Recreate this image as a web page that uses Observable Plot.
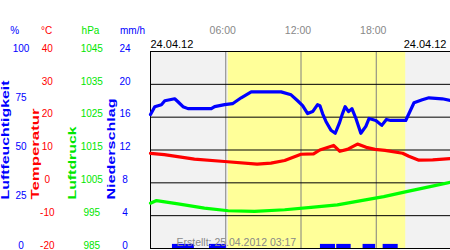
<!DOCTYPE html>
<html><head><meta charset="utf-8">
<script src="https://cdn.jsdelivr.net/npm/d3@7"></script>
<script src="https://cdn.jsdelivr.net/npm/@observablehq/plot@0.6"></script>
<style>
html,body{margin:0;padding:0;background:#fff;overflow:hidden;}
</style></head><body><div id="chart"></div>
<script>
// ---- data ----
const humHours  = [0, 0.34, 0.87, 1.14, 1.93, 2.19, 2.59, 2.99, 4.85, 5.11, 5.91, 6.54, 7.23, 8.03, 10.41, 11.21, 11.73, 12.13, 12.53, 12.93, 13.32, 13.51, 13.72, 13.99, 14.39, 14.73, 15.05, 15.31, 15.52, 15.79, 16.06, 16.38, 16.77, 17.17, 17.43, 17.97, 18.44, 18.81, 19.16, 20.35, 20.61, 21.01, 21.67, 22.2, 23.26, 24];
const humValues = [68, 72, 73, 75, 76, 74.5, 72, 71, 71, 72, 73, 73.5, 76.5, 79.5, 79.5, 78, 75, 72.5, 68.5, 69.5, 73, 72.5, 68.5, 64.5, 60, 58.5, 63.5, 68.5, 72, 69.5, 71, 66, 58.5, 62, 66, 65, 62.5, 65.5, 65, 65, 68.5, 74, 75.5, 76.5, 76, 75];

const tempHours  = [0, 1.1, 3.5, 5.9, 8.5, 9.6, 10.7, 12.0, 13.0, 13.5, 14.6, 15.1, 15.7, 16.5, 17.2, 17.9, 18.7, 20.1, 20.6, 21.4, 22.5, 24];
const tempValues = [9.0, 8.6, 7.2, 6.5, 5.7, 6.0, 6.8, 8.7, 8.8, 10.0, 11.4, 9.6, 10.2, 11.8, 10.8, 10.2, 9.9, 9.0, 8.1, 6.9, 7.0, 7.4];

const pressHours  = [0, 0.48, 2.2, 4.3, 6.2, 8.3, 10.7, 12.8, 14.9, 16.8, 18.6, 20.5, 22.1, 24];
const pressValues = [998.8, 999.6, 998.6, 997.3, 996.5, 996.3, 996.8, 997.5, 998.3, 999.6, 1000.8, 1002.4, 1003.7, 1005.2];

const rainStart  = [1.75, 4.7, 13.55, 14.85, 16.95, 18.55];
const rainEnd    = [3.5, 6.05, 14.75, 16.0, 17.95, 19.75];
const rainValues = [0.5, 0.5, 0.5, 0.5, 0.5, 0.5];

const humTicks   = [0, 25, 50, 75, 100];
const tempTicks  = [-20, -10, 0, 10, 20, 30, 40];
const pressTicks = [985, 995, 1005, 1015, 1025, 1035, 1045];
const rainTicks  = [0, 4, 8, 12, 16, 20, 24];

const timeTicks  = [6, 12, 18];
const timeLabels = ["06:00", "12:00", "18:00"];
const dateLabel  = "24.04.12";
const dayStart = 6.2, dayEnd = 20.35;
const unitLabels  = ["%", "°C", "hPa", "mm/h"];
const axisTitles  = ["Luftfeuchtigkeit", "Temperatur", "Luftdruck", "Niederschlag"];
const createdText = "Erstellt: 25.04.2012 03:17";

// ---- secondary axes mapped onto the temperature (°C) scale ----
const hum   = h => -20 + h * 0.6;
const press = p => p - 1005;
const rain  = r => -20 + r * 2.5;

const humData   = humHours.map((t, i) => ({t, v: hum(humValues[i])}));
const tempData  = tempHours.map((t, i) => ({t, v: tempValues[i]}));
const pressData = pressHours.map((t, i) => ({t, v: press(pressValues[i])}));
const rainData  = rainStart.map((s, i) => ({s, e: rainEnd[i], v: rain(rainValues[i])}));

// ---- layout / style ----
const ML = 150, MT = 51;
const BLUE = "#0000ff", RED = "#ff0000", GREEN = "#00ff00", GREENTXT = "#00e600";
const axes = [
  {ticks: humTicks,   map: hum,   cx: 20.5, color: BLUE},
  {ticks: tempTicks,  map: t => t, cx: 46.8, color: RED},
  {ticks: pressTicks, map: press, cx: 91.3, color: GREENTXT},
  {ticks: rainTicks,  map: rain,  cx: 124.5, color: BLUE}
];
const unitPos   = [14.2, 46.2, 90, 132];
const unitColor = [BLUE, RED, GREENTXT, BLUE];
const titleBase = [8.5, 38, 75.5, 114.5];
const titleLen  = [119, 91, 73, 101];
const titleColor = [BLUE, RED, GREENTXT, BLUE];

const marks = [
  Plot.rect([0], {x1: () => 0, x2: () => 24, y1: () => -20, y2: () => 40, fill: "#f2f2f2"}),
  Plot.rect([0], {x1: () => dayStart, x2: () => dayEnd, y1: () => -20, y2: () => 40, fill: "#ffff99"}),
  Plot.ruleX(timeTicks, {stroke: "#808080", strokeWidth: 1}),
  Plot.ruleY(tempTicks, {stroke: "black", strokeWidth: 1}),
  Plot.ruleX([0], {stroke: "black", strokeWidth: 1}),
  Plot.rect(rainData, {x1: "s", x2: "e", y1: () => rain(0), y2: "v", fill: BLUE}),
  Plot.line(pressData, {x: "t", y: "v", stroke: GREEN, strokeWidth: 3.2}),
  Plot.line(tempData, {x: "t", y: "v", stroke: RED, strokeWidth: 3.2}),
  Plot.line(humData, {x: "t", y: "v", stroke: BLUE, strokeWidth: 3.2}),
  Plot.text(timeTicks, {x: d => d, text: (d, i) => timeLabels[i], frameAnchor: "top", dy: -18, dx: -3,
    lineAnchor: "bottom", fill: "#888888", fontSize: 10.5}),
  Plot.text([dateLabel], {text: d => d, frameAnchor: "top-left", dy: -4, lineAnchor: "bottom",
    textAnchor: "start", fill: "black", fontSize: 11}),
  Plot.text([dateLabel], {text: d => d, frameAnchor: "top-right", dx: -4, dy: -4, lineAnchor: "bottom",
    textAnchor: "end", fill: "black", fontSize: 11}),
  Plot.text([createdText], {text: d => d, frameAnchor: "bottom-left", dx: 26, dy: -2.5, lineAnchor: "bottom",
    textAnchor: "start", fill: "#888888", fontSize: 10.5})
];
axes.forEach(a => {
  marks.push(Plot.text(a.ticks, {y: d => a.map(d), text: d => String(d), frameAnchor: "left",
    dx: a.cx - ML, dy: -3, textAnchor: "middle", lineAnchor: "middle", fill: a.color, fontSize: 10}));
});
unitLabels.forEach((u, i) => {
  marks.push(Plot.text([u], {text: d => d, frameAnchor: "top-left", dx: unitPos[i] - ML, dy: 33 - MT,
    textAnchor: "middle", lineAnchor: "bottom", fill: unitColor[i], fontSize: 10}));
});
axisTitles.forEach((t, i) => {
  marks.push(Plot.text([t], {text: d => d, frameAnchor: "top-left", dx: titleBase[i] - ML, dy: 199 - MT,
    rotate: -90, textAnchor: "start", lineAnchor: "bottom", fill: titleColor[i], fontSize: 10, fontWeight: "bold"}));
});

const chart = Plot.plot({
  width: 450, height: 250,
  marginLeft: ML, marginRight: 0, marginTop: MT, marginBottom: 2,
  x: {domain: [0, 24], range: [ML, 451], axis: null},
  y: {domain: [-20, 40], axis: null},
  style: {fontFamily: "'Liberation Sans', Arial, sans-serif", background: "white", overflow: "hidden"},
  marks
});
d3.select(chart).selectAll("text").each(function() {
  const k = axisTitles.indexOf(this.textContent);
  if (k >= 0) d3.select(this).attr("textLength", titleLen[k]).attr("lengthAdjust", "spacingAndGlyphs");
});
document.getElementById("chart").appendChild(chart);
</script></body></html>
